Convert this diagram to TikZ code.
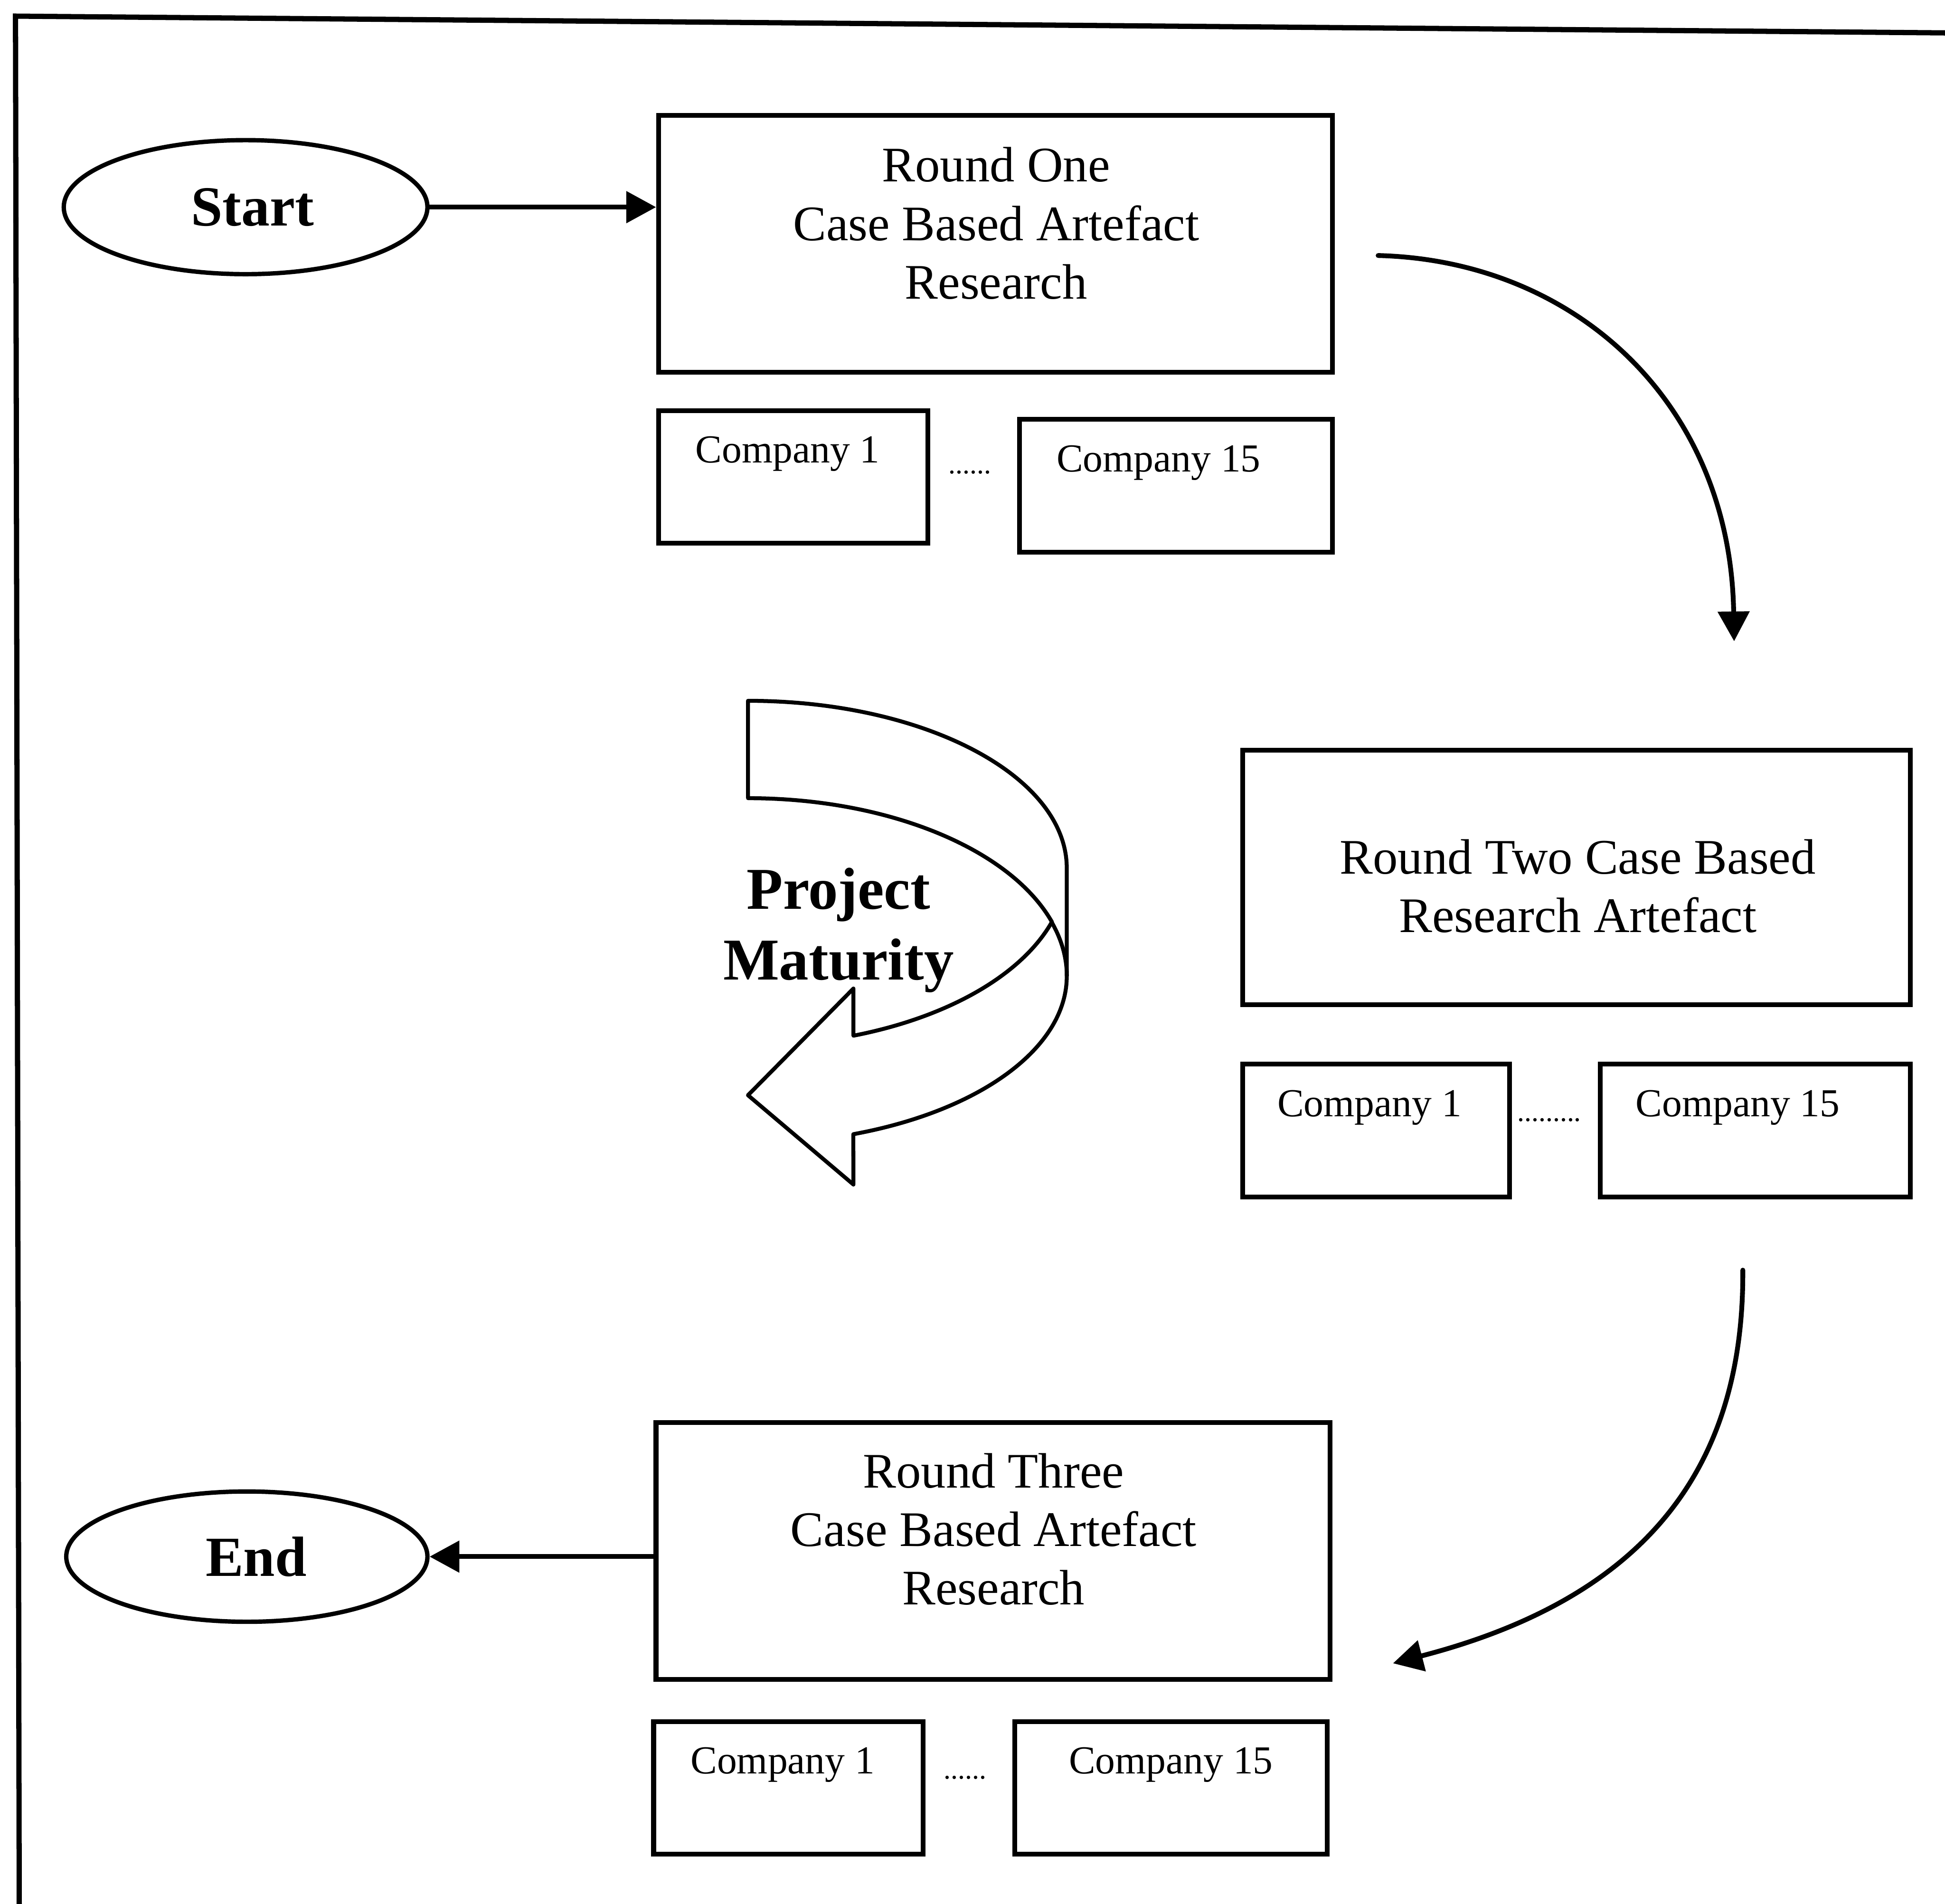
\documentclass[tikz,border=0pt]{standalone}
\usepackage{fontspec}
\setmainfont{Liberation Serif}
\usetikzlibrary{arrows.meta,shapes.geometric}

\begin{document}
\begin{tikzpicture}[x=0.01cm,y=-0.01cm,
  roundbox/.style={draw, line width=1.1pt, minimum width=5.43cm, minimum height=2.07cm, inner sep=0pt},
  compbox/.style={draw, line width=1.1pt, minimum height=1.07cm, inner sep=0pt},
  roundtext/.style={align=center, font=\fontsize{11.4}{13.4}\selectfont, inner sep=0pt},
  comptext/.style={font=\fontsize{9.1}{11}\selectfont, inner sep=0pt},
  dotrow/.style={font=\fontsize{6.5}{8}\selectfont, inner sep=0pt},
  terminal/.style={draw, ellipse, line width=1pt, inner sep=0pt},
  termtext/.style={inner sep=0pt, font=\bfseries\fontsize{13}{15}\selectfont},
  flow/.style={line width=1.1pt, line cap=round, -{Triangle[length=0.24cm,width=0.25cm]}},
  ribbon/.style={draw, fill=white, line width=0.9pt, line join=round},
  frameline/.style={line width=1.2pt}
]
\useasboundingbox (0,0) rectangle (1568,1535);

% outer frame (top and left edges)
\coordinate (fr) at (1568,26.5);
\coordinate (fc) at (12.5,13);
\coordinate (fb) at (15.5,1535);
\draw[frameline] (fr) -- (fc) -- (fb);

% terminals
\node[terminal, minimum width=2.93cm, minimum height=1.08cm] (start) at (198,167) {};
\node[termtext] (startt) at (203.5,167) {Start};
\node[terminal, minimum width=2.91cm, minimum height=1.05cm] (end) at (199,1255) {};
\node[termtext] (endt) at (206.5,1255) {End};

% round one
\node[roundbox] (r1) at (802.5,196.5) {};
\node[roundtext] (r1t) at (803,180) {Round One\\Case Based Artefact\\Research};
\node[compbox, minimum width=2.17cm] (r1c1) at (639.5,384.5) {};
\node[comptext] (r1c1t) at (635,366) {Company 1};
\node[compbox, minimum width=2.52cm] (r1c15) at (948,391.5) {};
\node[comptext] (r1c15t) at (934,373) {Company 15};
\node[dotrow] (r1d) at (782,381) {......};

% round two
\node[roundbox, minimum width=5.38cm, minimum height=2.05cm] (r2) at (1271,707.5) {};
\node[roundtext] (r2t) at (1272,714.5) {Round Two Case Based\\Research Artefact};
\node[compbox, minimum width=2.15cm] (r2c1) at (1109.5,911.5) {};
\node[comptext] (r2c1t) at (1104,893) {Company 1};
\node[compbox, minimum width=2.50cm] (r2c15) at (1415,911.5) {};
\node[comptext] (r2c15t) at (1401,893) {Company 15};
\node[dotrow] (r2d) at (1249,903) {.........};

% round three
\node[roundbox] (r3) at (800.5,1250.5) {};
\node[roundtext] (r3t) at (801,1233) {Round Three\\Case Based Artefact\\Research};
\node[compbox, minimum width=2.17cm] (r3c1) at (635.5,1441.5) {};
\node[comptext] (r3c1t) at (631,1423) {Company 1};
\node[compbox, minimum width=2.52cm] (r3c15) at (944,1441.5) {};
\node[comptext] (r3c15t) at (944,1423) {Company 15};
\node[dotrow] (r3d) at (778,1433) {......};

% straight connectors
\draw[flow] (start.east) -- (start.east -| r1.west);
\draw[flow] (end.east -| r3.west) -- (end.east);

% curved connectors between rounds
\coordinate (a1s) at (1111,206);
\coordinate (a1e) at (1398,517);
\draw[flow] (a1s) .. controls (1270,210) and (1395,325) .. (a1e);
\coordinate (a2s) at (1405,1024);
\coordinate (a2e) at (1123,1341);
\draw[flow] (a2s) .. controls (1406,1190) and (1320,1290) .. (a2e);

% curved ribbon arrow
\path[ribbon] (603,565)
  arc[start angle=270, end angle=360, x radius=257, y radius=135]
  -- (860,787)
  arc[start angle=0, end angle=70.7, x radius=257, y radius=135]
  -- (688,955) -- (603,883) -- (688,797) -- (688,835)
  arc[start angle=70.7, end angle=17.6, x radius=257, y radius=143]
  arc[start angle=342.4, end angle=270, x radius=257, y radius=143]
  -- cycle;
\draw[line width=0.9pt] (848,743.8)
  arc[start angle=342.4, end angle=360, x radius=257, y radius=143];
\node[align=center, inner sep=0pt, font=\bfseries\fontsize{13.6}{16.2}\selectfont]
  (pm) at (676,750) {Project\\Maturity};
\end{tikzpicture}
\end{document}
